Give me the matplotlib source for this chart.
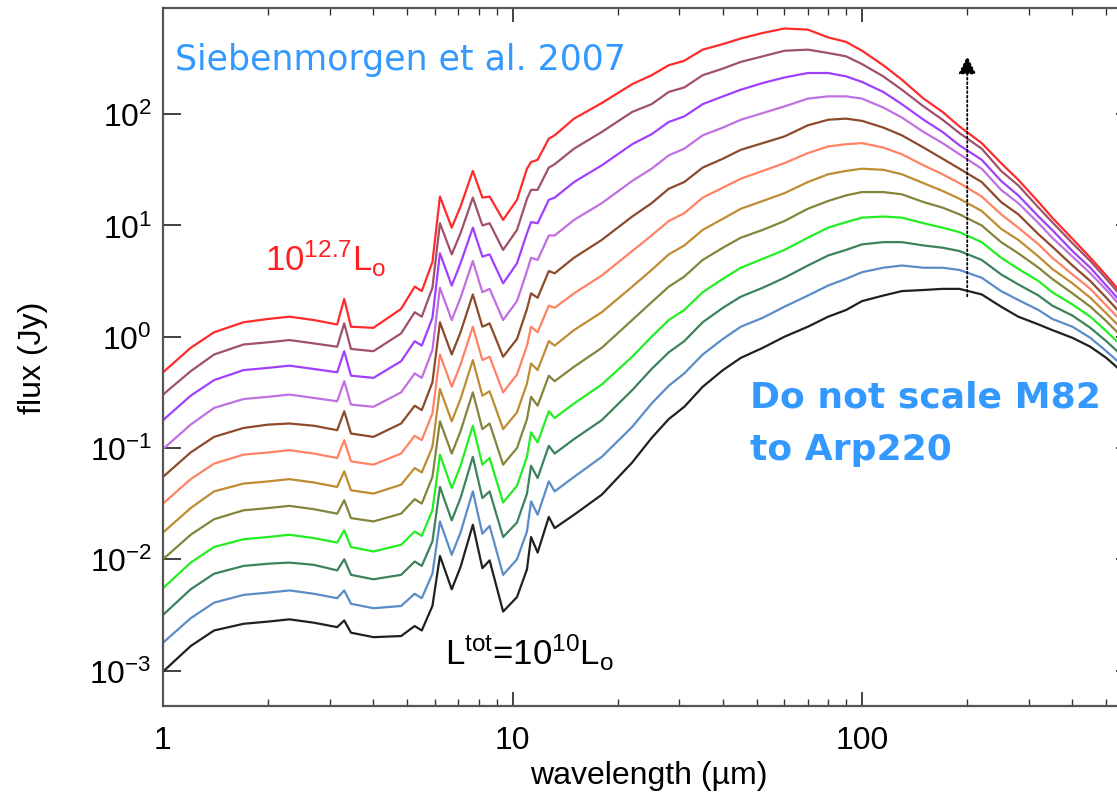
import matplotlib
matplotlib.use("Agg")
import matplotlib.pyplot as plt
import numpy as np
from matplotlib.ticker import FuncFormatter, NullLocator, NullFormatter, LogLocator, FixedLocator

plt.rcParams['font.family'] = ['Liberation Sans', 'DejaVu Sans']
plt.rcParams['mathtext.default'] = 'regular'

# wavelength grid (micron)
wavelength = [1.0, 1.2, 1.4, 1.7, 2.0, 2.3, 2.7, 3.15, 3.3, 3.45, 4.0, 4.8,
              5.25, 5.5, 5.9, 6.2, 6.7, 7.1, 7.7, 8.2, 8.6, 9.4, 10.3, 11.0,
              11.3, 11.8, 12.7, 13.2,
              15, 18, 22, 25, 28, 31, 35, 40, 45, 52, 60, 70,
              80, 90, 100, 115, 130, 150, 170, 190, 220, 250, 280, 320, 350,
              400, 450, 500, 600]

# log10 flux (Jy), top curve (10^12.7 Lsun) to bottom curve (10^10 Lsun)
sed_01 = [-0.32, -0.10, 0.04, 0.13, 0.16, 0.18, 0.15, 0.11, 0.34, 0.09, 0.08, 0.25,
          0.45, 0.41, 0.67, 1.26, 0.98, 1.17, 1.49, 1.25, 1.26, 1.05, 1.23, 1.51,
          1.57, 1.59, 1.78, 1.81,
          1.96, 2.10, 2.27, 2.35, 2.44, 2.48, 2.58, 2.63, 2.68, 2.73, 2.77, 2.76,
          2.69, 2.65, 2.57, 2.44, 2.31, 2.14, 2.02, 1.89, 1.74, 1.56, 1.41, 1.21,
          1.07, 0.88, 0.71, 0.55, 0.26]
sed_02 = [-0.52, -0.31, -0.16, -0.07, -0.05, -0.03, -0.06, -0.09, 0.12, -0.11, -0.13, 0.03,
          0.22, 0.18, 0.44, 1.02, 0.74, 0.93, 1.25, 1.00, 1.02, 0.78, 0.96, 1.24,
          1.32, 1.32, 1.52, 1.55,
          1.69, 1.84, 2.02, 2.09, 2.20, 2.24, 2.35, 2.41, 2.47, 2.52, 2.57, 2.58,
          2.55, 2.52, 2.45, 2.34, 2.22, 2.07, 1.95, 1.83, 1.69, 1.49, 1.36, 1.16,
          1.03, 0.84, 0.68, 0.52, 0.23]
sed_03 = [-0.75, -0.53, -0.39, -0.30, -0.28, -0.26, -0.29, -0.32, -0.13, -0.35, -0.37, -0.22,
          -0.04, -0.08, 0.17, 0.75, 0.46, 0.66, 0.98, 0.72, 0.74, 0.48, 0.66, 0.93,
          1.03, 1.02, 1.23, 1.25,
          1.39, 1.54, 1.73, 1.82, 1.93, 1.98, 2.09, 2.16, 2.22, 2.28, 2.33, 2.37,
          2.37, 2.34, 2.29, 2.20, 2.09, 1.95, 1.84, 1.72, 1.59, 1.40, 1.27, 1.08,
          0.96, 0.77, 0.62, 0.46, 0.18]
sed_04 = [-1.01, -0.79, -0.64, -0.56, -0.54, -0.52, -0.55, -0.58, -0.40, -0.61, -0.63, -0.50,
          -0.33, -0.37, -0.12, 0.44, 0.15, 0.35, 0.68, 0.40, 0.43, 0.15, 0.32, 0.59,
          0.71, 0.69, 0.91, 0.91,
          1.05, 1.20, 1.40, 1.51, 1.63, 1.69, 1.81, 1.88, 1.95, 2.01, 2.07, 2.14,
          2.16, 2.16, 2.14, 2.06, 1.97, 1.84, 1.74, 1.64, 1.51, 1.32, 1.20, 1.02,
          0.89, 0.72, 0.57, 0.42, 0.14]
sed_05 = [-1.26, -1.04, -0.90, -0.82, -0.79, -0.78, -0.80, -0.84, -0.67, -0.87, -0.90, -0.78,
          -0.62, -0.66, -0.41, 0.13, -0.16, 0.04, 0.38, 0.09, 0.12, -0.18, -0.02, 0.25,
          0.39, 0.35, 0.59, 0.57,
          0.71, 0.87, 1.08, 1.20, 1.33, 1.39, 1.52, 1.60, 1.68, 1.74, 1.80, 1.90,
          1.95, 1.96, 1.94, 1.88, 1.81, 1.70, 1.60, 1.51, 1.39, 1.21, 1.10, 0.92,
          0.81, 0.64, 0.50, 0.35, 0.08]
sed_06 = [-1.50, -1.28, -1.14, -1.06, -1.04, -1.02, -1.05, -1.09, -0.93, -1.12, -1.15, -1.05,
          -0.89, -0.93, -0.69, -0.16, -0.45, -0.25, 0.09, -0.21, -0.18, -0.50, -0.34, -0.08,
          0.09, 0.04, 0.28, 0.26,
          0.39, 0.55, 0.77, 0.91, 1.04, 1.11, 1.25, 1.34, 1.42, 1.49, 1.56, 1.65,
          1.71, 1.73, 1.74, 1.70, 1.64, 1.54, 1.46, 1.38, 1.26, 1.10, 0.98, 0.83,
          0.71, 0.56, 0.43, 0.28, 0.02]
sed_07 = [-1.76, -1.54, -1.39, -1.32, -1.30, -1.28, -1.31, -1.35, -1.21, -1.38, -1.41, -1.33,
          -1.18, -1.22, -0.99, -0.47, -0.76, -0.56, -0.21, -0.53, -0.49, -0.83, -0.68, -0.42,
          -0.24, -0.30, -0.04, -0.08,
          0.06, 0.22, 0.45, 0.60, 0.74, 0.82, 0.96, 1.06, 1.15, 1.22, 1.29, 1.39,
          1.46, 1.49, 1.51, 1.50, 1.46, 1.38, 1.31, 1.24, 1.13, 0.97, 0.87, 0.72,
          0.61, 0.48, 0.35, 0.21, -0.04]
sed_08 = [-2.00, -1.78, -1.64, -1.56, -1.54, -1.52, -1.55, -1.59, -1.47, -1.63, -1.66, -1.59,
          -1.46, -1.50, -1.26, -0.76, -1.05, -0.85, -0.50, -0.83, -0.78, -1.15, -1.00, -0.74,
          -0.54, -0.62, -0.35, -0.40,
          -0.27, -0.10, 0.15, 0.31, 0.45, 0.54, 0.69, 0.80, 0.89, 0.96, 1.04, 1.15,
          1.22, 1.27, 1.30, 1.30, 1.28, 1.21, 1.16, 1.10, 1.00, 0.85, 0.75, 0.62,
          0.52, 0.39, 0.27, 0.14, -0.11]
sed_09 = [-2.26, -2.03, -1.89, -1.82, -1.80, -1.78, -1.81, -1.85, -1.74, -1.89, -1.93, -1.87,
          -1.75, -1.79, -1.56, -1.06, -1.36, -1.16, -0.80, -1.15, -1.09, -1.49, -1.34, -1.08,
          -0.86, -0.95, -0.67, -0.73,
          -0.60, -0.43, -0.18, 0.00, 0.15, 0.24, 0.40, 0.52, 0.62, 0.70, 0.78, 0.89,
          0.98, 1.03, 1.07, 1.08, 1.07, 1.02, 0.98, 0.94, 0.85, 0.71, 0.61, 0.50,
          0.40, 0.29, 0.18, 0.05, -0.19]
sed_10 = [-2.50, -2.27, -2.13, -2.06, -2.04, -2.03, -2.05, -2.10, -2.00, -2.14, -2.18, -2.14,
          -2.02, -2.06, -1.84, -1.35, -1.65, -1.45, -1.08, -1.45, -1.39, -1.80, -1.67, -1.41,
          -1.16, -1.27, -0.98, -1.05,
          -0.92, -0.75, -0.48, -0.29, -0.14, -0.04, 0.13, 0.26, 0.36, 0.44, 0.53, 0.64,
          0.73, 0.78, 0.83, 0.85, 0.85, 0.82, 0.80, 0.77, 0.69, 0.56, 0.47, 0.37,
          0.28, 0.19, 0.08, -0.04, -0.27]
sed_11 = [-2.75, -2.53, -2.39, -2.32, -2.30, -2.28, -2.31, -2.35, -2.28, -2.40, -2.44, -2.42,
          -2.31, -2.35, -2.13, -1.66, -1.96, -1.76, -1.39, -1.77, -1.70, -2.14, -2.00, -1.75,
          -1.48, -1.60, -1.30, -1.39,
          -1.26, -1.08, -0.81, -0.60, -0.44, -0.33, -0.16, -0.02, 0.09, 0.17, 0.27, 0.37,
          0.46, 0.52, 0.58, 0.62, 0.64, 0.62, 0.62, 0.60, 0.53, 0.41, 0.33, 0.24,
          0.16, 0.09, -0.01, -0.13, -0.35]
sed_12 = [-3.01, -2.78, -2.64, -2.58, -2.56, -2.54, -2.57, -2.61, -2.55, -2.66, -2.70, -2.69,
          -2.60, -2.64, -2.42, -1.97, -2.27, -2.07, -1.69, -2.08, -2.01, -2.47, -2.34, -2.09,
          -1.80, -1.94, -1.62, -1.72,
          -1.60, -1.42, -1.13, -0.91, -0.74, -0.63, -0.45, -0.30, -0.19, -0.10, 0.00, 0.09,
          0.18, 0.24, 0.32, 0.37, 0.41, 0.42, 0.43, 0.43, 0.38, 0.27, 0.18, 0.11,
          0.06, -0.01, -0.09, -0.19, -0.41]

seds = [sed_01, sed_02, sed_03, sed_04, sed_05, sed_06,
        sed_07, sed_08, sed_09, sed_10, sed_11, sed_12]
colors = ['#ff2a2a', '#a0506a', '#a040ff', '#c070e0', '#8c4a2a', '#ff8264',
          '#be8c32', '#84843c', '#22ee22', '#3c825a', '#5a8cc8', '#202020']

x_ticks = [1, 10, 100]
y_ticks = [1e-3, 1e-2, 1e-1, 1e0, 1e1, 1e2]

W, H = 1117, 804
fig = plt.figure(figsize=(W / 100, H / 100), dpi=100)
ax = fig.add_axes([163 / W, 97 / H, 971 / W, 698 / H])

for vals, col in zip(seds, colors):
    ax.plot(wavelength, 10 ** np.array(vals), color=col, lw=1.6)

ax.set_xscale('log')
ax.set_yscale('log')
ax.set_xlim(1, 600)
ax.set_ylim(4.8e-4, 900)

ax.yaxis.set_major_locator(FixedLocator(y_ticks))
ax.yaxis.set_minor_locator(NullLocator())
ax.yaxis.set_major_formatter(FuncFormatter(lambda v, p: r'$10^{%d}$' % round(np.log10(v))))
ax.xaxis.set_major_locator(FixedLocator(x_ticks))
ax.xaxis.set_minor_locator(LogLocator(base=10, subs=np.arange(2, 10), numticks=20))
ax.xaxis.set_major_formatter(FuncFormatter(lambda v, p: '%g' % v))
ax.xaxis.set_minor_formatter(NullFormatter())

ax.tick_params(which='both', direction='in', top=True, right=True, colors='#333333')
ax.tick_params(axis='y', which='major', length=13, width=1.3, labelsize=23, pad=8,
               labelcolor='black')
ax.tick_params(axis='x', which='major', length=10, width=1.3, labelsize=23, pad=14,
               labelcolor='black')
ax.tick_params(axis='x', which='minor', length=5, width=1.0)
for s in ax.spines.values():
    s.set_linewidth(1.6)
    s.set_color('#555555')

ax.set_xlabel('wavelength (µm)', fontsize=23)
ax.xaxis.set_label_coords(0.5, -0.078)
ax.set_ylabel('flux (Jy)', fontsize=23)
ax.yaxis.set_label_coords(-0.118, 0.5)

# annotations
fig.text(175 / W, 1 - 70 / H, 'Siebenmorgen et al. 2007', color='#3399ff',
         fontsize=25, family='DejaVu Sans', va='baseline')
fig.text(265 / W, 1 - 271 / H, r'$10^{12.7}$L$_o$', color='#ff2020',
         fontsize=25, va='baseline')
fig.text(445 / W, 1 - 665 / H, r'L$^{tot}$=10$^{10}$L$_o$', color='black',
         fontsize=25, va='baseline')
fig.text(750 / W, 1 - 408 / H, 'Do not scale M82', color='#3399ff',
         fontsize=26, family='DejaVu Sans', weight='bold', va='baseline')
fig.text(750 / W, 1 - 460 / H, 'to Arp220', color='#3399ff',
         fontsize=26, family='DejaVu Sans', weight='bold', va='baseline')

ax.annotate('', xy=(200, 333), xytext=(200, 2.31),
            arrowprops=dict(arrowstyle='-|>,head_length=0.55,head_width=0.27',
                            linestyle=(0, (1, 1.5)), color='black', lw=1.3,
                            mutation_scale=20, shrinkA=0, shrinkB=0))

fig.savefig('out.png', dpi=100)
